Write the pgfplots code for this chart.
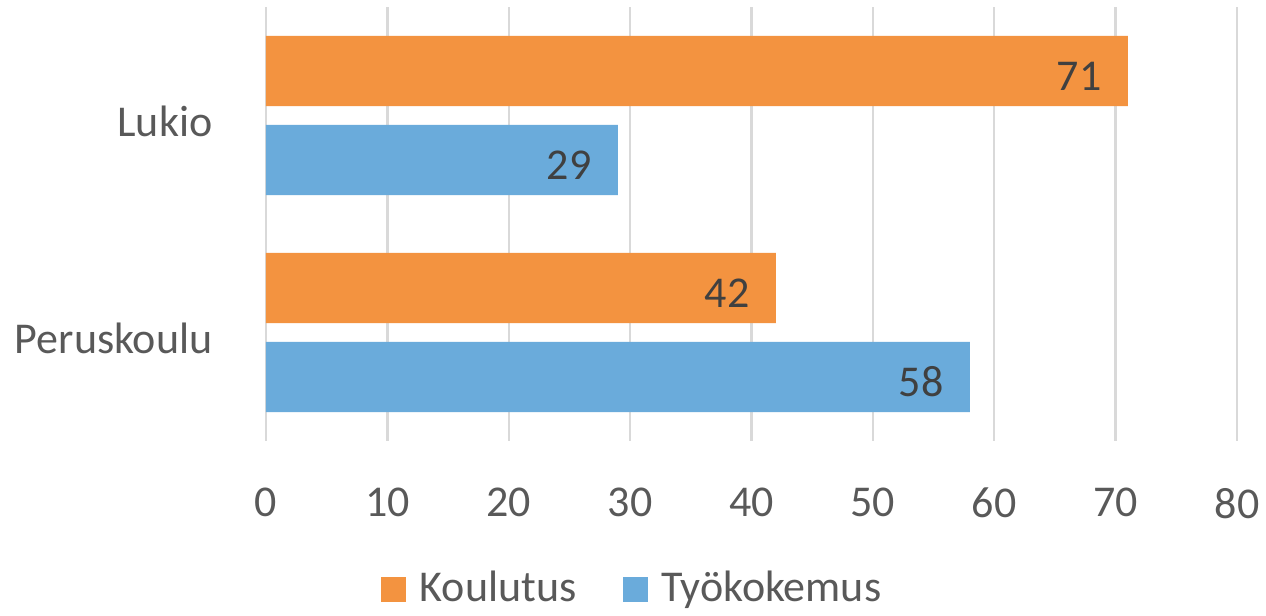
\documentclass[border=0pt]{standalone}
\usepackage{pgfplots}
\pgfplotsset{compat=1.18}
\usepackage{fontspec}
\setmainfont{Carlito}
\definecolor{cOr}{HTML}{F39340}
\definecolor{cBl}{HTML}{6AABDB}
\definecolor{cGrid}{HTML}{D9D9D9}
\definecolor{cTxt}{HTML}{595959}
\definecolor{cLab}{HTML}{404040}
\begin{document}
\fontsize{22}{26}\selectfont
\begin{tikzpicture}
\path[use as bounding box] (0,0) rectangle (633pt,308pt);
\begin{axis}[
 at={(133pt,87.5pt)}, anchor=south west, scale only axis,
 width=485.5pt, height=217pt,
 xmin=0, xmax=80, ymin=-0.5, ymax=1.5,
 xtick={0,10,...,80}, ytick={0,1}, yticklabels={Peruskoulu,Lukio},
 xmajorgrids, major grid style={cGrid, line width=1.2pt},
 axis line style={draw=none}, tick style={draw=none},
 xbar, bar width=0.323,
 /pgf/number format/assume math mode=true,
 tick label style={font=\fontsize{22}{26}\selectfont, text=cTxt},
 xticklabel style={yshift=-16pt},
 yticklabel style={anchor=base east, xshift=-15pt, yshift=-10.5pt},
 nodes near coords,
 nodes near coords style={anchor=east, font=\fontsize{22}{26}\selectfont, text=cLab, xshift=-5.7pt, yshift=-2.5pt},
 legend style={at={(0.378,-0.343)}, anchor=center, draw=none, fill=none, legend columns=2,
   font=\fontsize{22}{26}\selectfont, text=cTxt,
   /tikz/every odd column/.append style={column sep=5pt},
   /tikz/every even column/.append style={column sep=21pt}},
 legend image code/.code={\fill[#1] (0pt,-6.25pt) rectangle (12.5pt,6.25pt);},
]
\addplot[draw=none, fill=cOr, bar shift=0.205] coordinates {(42,0) (71,1)};
\addplot[draw=none, fill=cBl, bar shift=-0.205] coordinates {(58,0) (29,1)};
\legend{Koulutus, Työkokemus}
\end{axis}
\end{tikzpicture}
\end{document}
